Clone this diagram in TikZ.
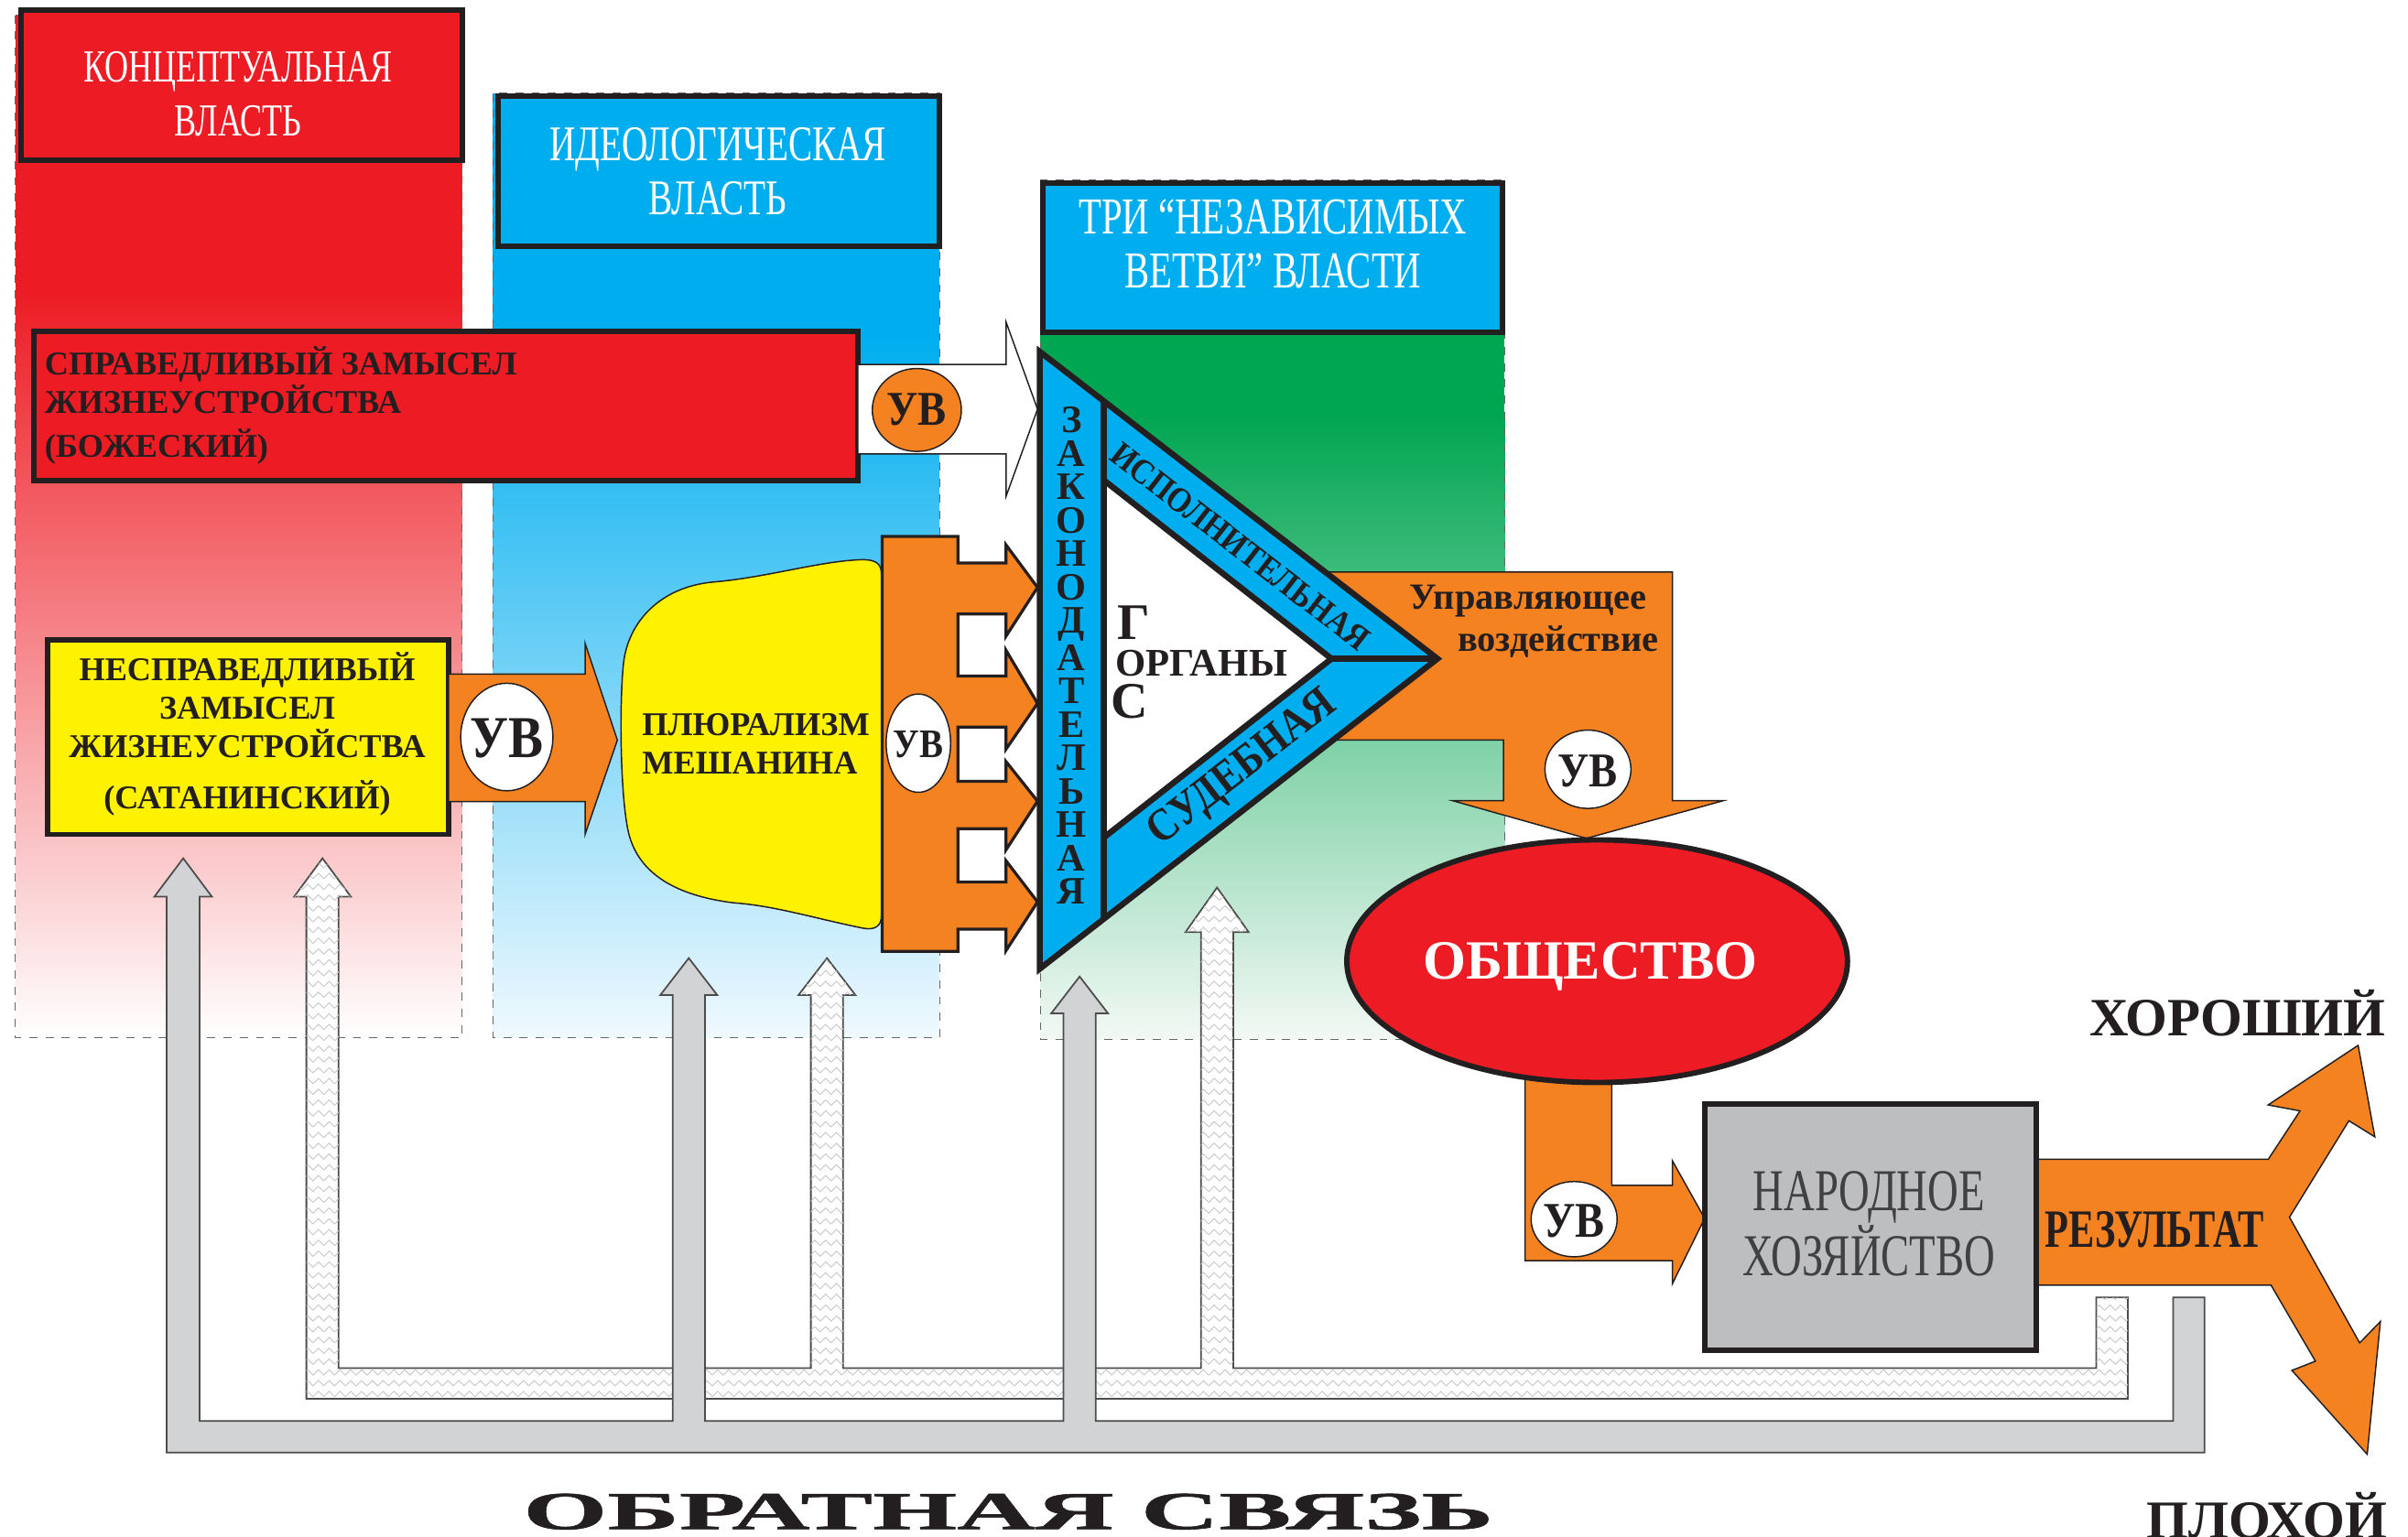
\documentclass[tikz,border=0pt]{standalone}
\usepackage{fontspec}
\setmainfont{Liberation Serif}
\newfontfamily\condfont[FakeStretch=0.72]{Liberation Serif}
\newfontfamily\semifont[FakeStretch=0.88]{Liberation Serif}
\newfontfamily\widefont[FakeStretch=2.03, FakeBold=1]{Liberation Serif}
\usetikzlibrary{patterns, shapes}
\definecolor{my_red}{HTML}{ED1C24}
\definecolor{my_redfade}{HTML}{F6A085}
\definecolor{my_blue}{HTML}{00AEEF}
\definecolor{my_bluefade}{HTML}{88D6F6}
\definecolor{my_bluelow}{HTML}{F0F9FE}
\definecolor{my_green}{HTML}{00A651}
\definecolor{my_greenfade}{HTML}{92D0A9}
\definecolor{my_greenlow}{HTML}{F3F9F5}
\definecolor{my_orange}{HTML}{F58220}
\definecolor{my_yellow}{HTML}{FFF200}
\definecolor{my_gray}{HTML}{BCBEC0}
\definecolor{my_lightgray}{HTML}{D1D3D4}
\definecolor{my_dark}{HTML}{231F20}
\definecolor{my_darkgray}{HTML}{414042}
\pgfdeclarepatternformonly{herringbone}{\pgfpoint{-0.5pt}{-0.5pt}}{\pgfpoint{4.5pt}{4.5pt}}{\pgfpoint{4pt}{4pt}}{
  \pgfsetlinewidth{0.3pt}
  \pgfpathmoveto{\pgfpoint{0pt}{0pt}}
  \pgfpathlineto{\pgfpoint{2pt}{2pt}}
  \pgfpathlineto{\pgfpoint{4pt}{0pt}}
  \pgfusepath{stroke}}
\tikzset {
  colbox/.style = {draw=gray!80!black, dashed, line width=0.4pt},
  header/.style = {draw=my_dark, line width=2pt},
  headtext/.style = {text=white, align=center, font={\condfont\fontsize{#1}{20}\selectfont}},
  plan/.style = {draw=my_dark, line width=2pt},
  plantext/.style = {text=my_dark, font={\bfseries\fontsize{12.3}{14.2}\selectfont}},
  flow/.style = {draw=my_dark, line width=0.5pt, fill=my_orange},
  comb/.style = {draw=my_dark, line width=1.1pt, fill=my_orange},
  uvring/.style = {draw=my_dark, line width=0.5pt, fill=white},
  uvtext/.style = {text=my_dark, font={\semifont\bfseries\fontsize{#1}{#1}\selectfont}},
  tri/.style = {draw=my_dark, line width=2.2pt},
  tritext/.style = {text=my_dark, font={\bfseries\fontsize{#1}{#1}\selectfont}},
  greybar/.style = {draw=gray!60!black, line width=0.6pt, fill=my_lightgray},
  hatchbar/.style = {draw=gray!60!black, line width=0.6pt, fill=white, postaction={pattern=herringbone, pattern color=gray!45}},
  label/.style = {text=my_dark, font={\bfseries\fontsize{20}{22}\selectfont}}
}

\begin{document}
\begin{tikzpicture}[x=0.02cm, y=-0.02cm]
  \useasboundingbox (0,0) rectangle (1568,1001);

  % three columns of power
  \fill[my_red] (10,10) rectangle (301,191);
  \shade[top color=my_red, middle color=my_redfade, bottom color=white] (10,190) rectangle (301,675.6);
  \draw[colbox] (10,10) rectangle (301,675.6);
  \fill[my_blue] (321,60.7) rectangle (611.8,221);
  \shade[top color=my_blue, middle color=my_bluefade, bottom color=my_bluelow] (321,220) rectangle (611.8,675.9);
  \draw[colbox] (321,60.7) rectangle (611.8,675.9);
  \fill[my_green] (677.4,117.5) rectangle (979.7,271);
  \shade[top color=my_green, middle color=my_greenfade, bottom color=my_greenlow] (677.4,270) rectangle (979.7,676.8);
  \draw[colbox] (677.4,117.5) rectangle (979.7,676.8);

  \draw[header, fill=my_red] (13.8,6.4) rectangle (301,104.3);
  \node[headtext=17] (concept) at (155,61.2) {КОНЦЕПТУАЛЬНАЯ\\ВЛАСТЬ};
  \draw[header, fill=my_blue] (324.3,62.4) rectangle (611.8,160.2);
  \node[headtext=18.5] (ideology) at (467.5,111.7) {ИДЕОЛОГИЧЕСКАЯ\\ВЛАСТЬ};
  \draw[header, fill=my_blue] (679.2,119.3) rectangle (978.6,216.2);
  \node[headtext=19.2] (branches) at (828.9,158.7) {ТРИ “НЕЗАВИСИМЫХ\\ВЕТВИ” ВЛАСТИ};

  % just plan
  \draw[plan, fill=my_red] (21.8,216) rectangle (558.6,313);
  \node[plantext, anchor=west, align=left] (justplan) at (23,264) {СПРАВЕДЛИВЫЙ ЗАМЫСЕЛ\\ЖИЗНЕУСТРОЙСТВА\\[2pt](БОЖЕСКИЙ)};
  \draw[draw=my_dark, line width=0.5pt, fill=white] (558.6,237.3) -- (655.2,237.3) -- (655.2,210) -- (675.6,266.5)
    -- (655.2,323) -- (655.2,295.6) -- (558.6,295.6) -- cycle;
  \draw[uvring, fill=my_orange] (597,267) ellipse [x radius=29, y radius=27];
  \node[uvtext=18] (uvjust) at (597,267) {УВ};

  % unjust plan
  \draw[plan, fill=my_yellow] (31,417) rectangle (292,543.4);
  \node[plantext, align=center] (unjustplan) at (161,478.3) {НЕСПРАВЕДЛИВЫЙ\\ЗАМЫСЕЛ\\ЖИЗНЕУСТРОЙСТВА\\[5pt](САТАНИНСКИЙ)};
  \draw[flow] (292,439) -- (381,439) -- (381,419) -- (402,482) -- (381,543.4) -- (381,522) -- (292,522) -- cycle;
  \draw[uvring] (330,480) ellipse [x radius=30, y radius=35];
  \node[uvtext=22] (uvunjust) at (330,481) {УВ};

  % pluralism
  \draw[draw=my_dark, line width=0.5pt, fill=my_yellow] (574,374) -- (574,596)
    .. controls (574,603) and (570,606) .. (562,604.5)
    .. controls (530,598) and (505,590) .. (478,588)
    .. controls (445,584) and (418,572) .. (410,545)
    .. controls (404,525) and (403,460) .. (406,432)
    .. controls (409,405) and (430,382) .. (465,379)
    .. controls (500,376) and (535,365) .. (562,364.5)
    .. controls (570,364.5) and (574,367) .. (574,374) -- cycle;
  \node[plantext, anchor=west, align=left] (pluralism) at (412,484.5) {ПЛЮРАЛИЗМ\\МЕШАНИНА};
  \draw[comb] (574.5,349.4) -- (623.8,349.4) -- (623.8,366.7) -- (655,366.7) -- (655,354.8) -- (675.6,382.6)
    -- (655,414.4) -- (655,399.9) -- (623.8,399.9) -- (623.8,440.3) -- (655,440.3) -- (655,423.4)
    -- (675.6,458.1) -- (655,488) -- (655,473.5) -- (623.8,473.5) -- (623.8,508.8) -- (655,508.8)
    -- (655,495.9) -- (675.6,521.8) -- (655,553.6) -- (655,539.7) -- (623.8,539.7) -- (623.8,574.4)
    -- (655,574.4) -- (655,560.5) -- (675.6,587.4) -- (655,619.2) -- (655,605.2) -- (623.8,605.2)
    -- (623.8,619.6) -- (574.5,619.6) -- cycle;
  \draw[uvring] (598,484) ellipse [x radius=21, y radius=32];
  \node[uvtext=15] (uvmix) at (598,485) {УВ};

  % control action
  \draw[flow] (850,372.5) -- (1089,372.5) -- (1089,521.5) -- (1122,521.5) -- (1033,546) -- (946,521.5)
    -- (979,521.5) -- (979,482) -- (850,482) -- cycle;
  \node[tritext=13.7, anchor=base] (control) at (995,396.5) {Управляющее};
  \node[tritext=13.7, anchor=base] (impact) at (1014.7,424.4) {воздействие};
  \draw[uvring] (1034,501) ellipse [x radius=28, y radius=25.5];
  \node[uvtext=18] (uvcontrol) at (1034,502) {УВ};

  % branches triangle
  \draw[tri, fill=my_blue] (677,229) -- (936,429) -- (677,631) -- cycle;
  \draw[tri, fill=white] (718.6,312.6) -- (867,429) -- (718.6,545.6) -- cycle;
  \draw[tri] (718.6,261) -- (718.6,598.5);
  \draw[tri] (867,429) -- (936,429);
  \node[tritext=14.4, align=center, font={\bfseries\fontsize{14.4}{12.4}\selectfont}] (legis) at (697.7,427)
    {З\\А\\К\\О\\Н\\О\\Д\\А\\Т\\Е\\Л\\Ь\\Н\\А\\Я};
  \node[text=my_dark, inner sep=1pt, rotate=-37.7, font={\semifont\bfseries\fontsize{13}{14}\selectfont}] (exec) at (807.5,356) {ИСПОЛНИТЕЛЬНАЯ};
  \node[text=my_dark, inner sep=1pt, rotate=37.7, font={\semifont\bfseries\fontsize{17}{18}\selectfont}] (court) at (809.5,501) {СУДЕБНАЯ};
  \node[tritext=19] (organg) at (738,405.8) {Г};
  \node[tritext=14.5, anchor=west] (organs) at (720,431.7) {ОРГАНЫ};
  \node[tritext=19] (organs2) at (735.7,457) {С};

  % feedback
  \draw[hatchbar] (199.5,584) -- (191.5,584) -- (210,559) -- (228.5,584) -- (220.5,584) -- (220.5,891)
    -- (528,891) -- (528,648) -- (520,648) -- (538.5,624) -- (557,648) -- (549,648) -- (549,891)
    -- (782,891) -- (782,607) -- (772,607) -- (792.5,578) -- (813,607) -- (803,607) -- (803,891)
    -- (1365,891) -- (1365,845) -- (1385.5,845) -- (1385.5,911) -- (199.5,911) -- cycle;
  \draw[greybar] (108.5,584) -- (100.5,584) -- (119.3,559) -- (138,584) -- (130,584) -- (130,925.5)
    -- (438,925.5) -- (438,648) -- (430,648) -- (448.5,624) -- (467,648) -- (459,648) -- (459,925.5)
    -- (692.5,925.5) -- (692.5,660) -- (684.5,660) -- (703,636) -- (721.5,660) -- (713.5,660) -- (713.5,925.5)
    -- (1415,925.5) -- (1415,845) -- (1435.5,845) -- (1435.5,946) -- (108.5,946) -- cycle;
  \node[text=my_dark, font={\widefont\bfseries\fontsize{19.8}{20}\selectfont}] (feedback) at (656.5,984.5) {ОБРАТНАЯ СВЯЗЬ};

  % society and economy
  \draw[flow] (993,700) -- (1049.5,700) -- (1049.5,772) -- (1089,772) -- (1089,756) -- (1110,793.5)
    -- (1089,836) -- (1089,821) -- (993,821) -- cycle;
  \draw[uvring] (1025,794) ellipse [x radius=28, y radius=24.5];
  \node[uvtext=18.5] (uveconomy) at (1025,795) {УВ};
  \draw[draw=my_dark, line width=2pt, fill=my_red] (1040,626) ellipse [x radius=163, y radius=79];
  \node[text=white, font={\bfseries\fontsize{20.5}{22}\selectfont}] (society) at (1035.6,629.5) {ОБЩЕСТВО};
  \draw[flow] (1320,755) -- (1477,755) -- (1497.7,723.5) -- (1476.9,719.6) -- (1535.5,680.8) -- (1546.4,740.4)
    -- (1529.5,729.9) -- (1490.8,792.7) -- (1536.5,874.6) -- (1550,860.7) -- (1541.4,947.1) -- (1492.4,892.5)
    -- (1507.7,886.5) -- (1478.8,837) -- (1320,837) -- cycle;
  \draw[plan, fill=my_gray] (1110,719) rectangle (1326,879.5);
  \node[text=my_darkgray, align=center, font={\condfont\fontsize{22}{21.8}\selectfont}] (economy) at (1217,797) {НАРОДНОЕ\\ХОЗЯЙСТВО};
  \node[text=my_dark, font={\condfont\bfseries\fontsize{20}{20}\selectfont}] (result) at (1403,800.6) {РЕЗУЛЬТАТ};
  \node[label] (good) at (1457,660) {ХОРОШИЙ};
  \node[label] (bad) at (1476,987) {ПЛОХОЙ};
\end{tikzpicture}
\end{document}
